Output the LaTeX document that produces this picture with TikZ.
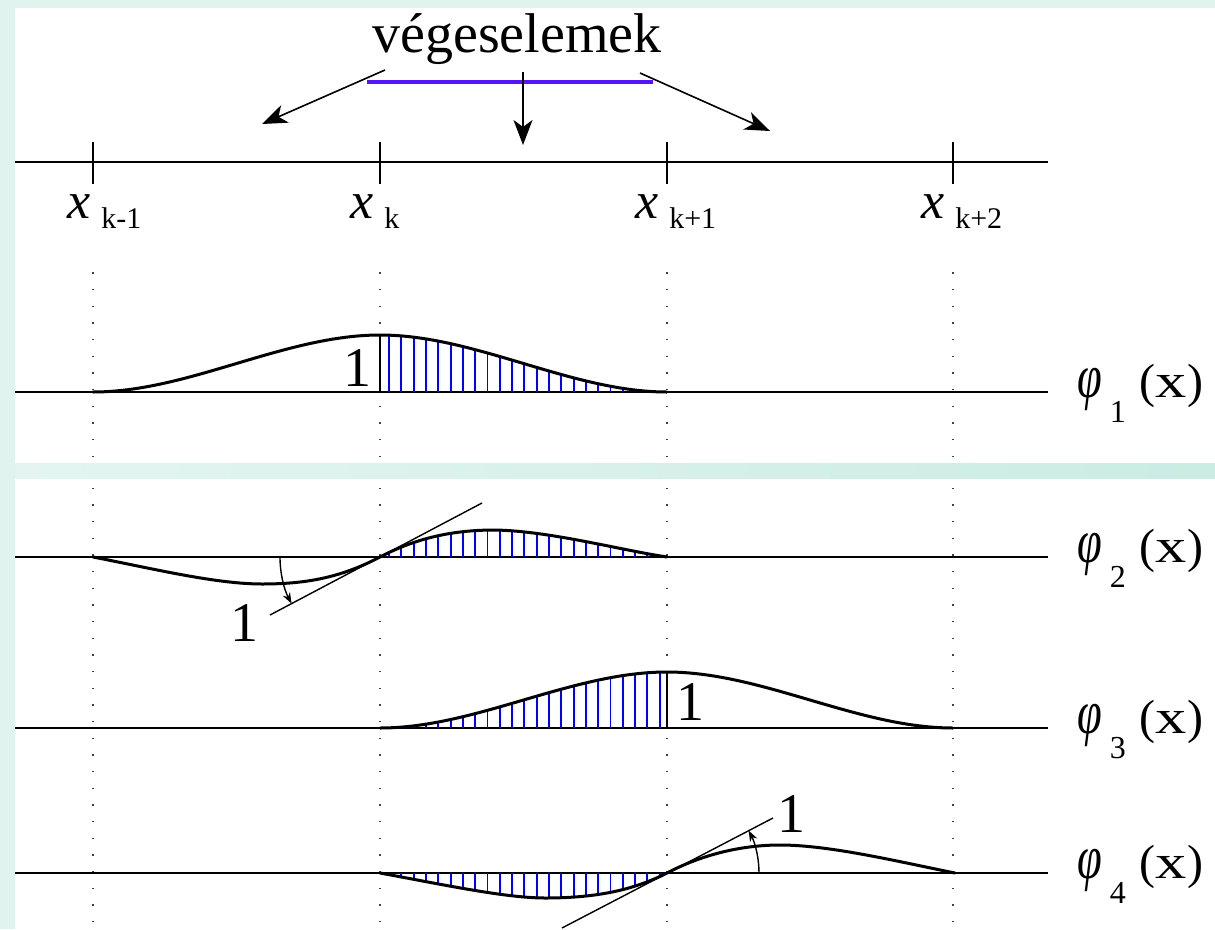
\documentclass[tikz,border=0pt]{standalone}
\usepackage{fontspec}
\setmainfont{Liberation Serif}
\usetikzlibrary{arrows.meta}
\definecolor{bgcyan}{RGB}{224,243,239}
\definecolor{stripL}{RGB}{228,245,241}
\definecolor{stripR}{RGB}{202,236,227}
\definecolor{barblue}{RGB}{85,20,245}
\definecolor{hatchblue}{RGB}{0,0,255}
\newcommand{\philabel}[1]{\scalebox{0.72}[1]{\fontsize{62}{62}\selectfont\itshape φ}\hspace{8pt}\raisebox{-25pt}{\fontsize{32}{32}\selectfont #1}\hspace{14pt}(\scalebox{1.3}[1]{x})}
\newcommand{\xlabel}[1]{\itshape x\upshape\hspace{11pt}\raisebox{-10pt}{\fontsize{30}{30}\selectfont #1}}
\begin{document}
\begin{tikzpicture}[x=1pt,y=-1pt,
  axisline/.style={line width=2.1pt},
  tick/.style={line width=2pt},
  curve/.style={line width=3pt, line join=round, line cap=round},
  hatch/.style={hatchblue, line width=1.9pt},
  tang/.style={line width=1.4pt},
  dotline/.style={line width=1.4pt, dash pattern=on 1.4pt off 15.27pt, black!75},
  bigarrow/.style={line width=1.6pt, -{Stealth[length=25pt,width=19pt,inset=7pt]}},
  arcarrow/.style={line width=1.4pt, -{Stealth[length=11pt,width=8pt]}},
  onelbl/.style={font=\fontsize{56}{60}\selectfont, inner sep=0pt, anchor=base},
  xlbl/.style={font=\fontsize{52}{56}\selectfont, inner sep=0pt, anchor=base west},
  philbl/.style={font=\fontsize{48}{52}\selectfont, inner sep=0pt, anchor=base west},
]
\useasboundingbox (0,0) rectangle (1215,929);
% background
\fill[bgcyan] (0,0) rectangle (1215,929);
\fill[white] (15,8) rectangle (1215,463);
\fill[white] (15,478) rectangle (1215,929);
\shade[left color=stripL, right color=stripR] (15,463) rectangle (1215,478);

% dotted guide lines
\foreach \gx in {93,380,667,953} {
  \draw[dotline] (\gx,272.2) -- (\gx,462);
  \draw[dotline] (\gx,487.5) -- (\gx,929);
}

% ---------- top axis ----------
\coordinate (axL) at (15,162);
\coordinate (axR) at (1048,162);
\draw[axisline] (axL) -- (axR);
\foreach \gx/\nm in {93/a,380/b,667/c,953/d} {
  \coordinate (t\nm1) at (\gx,142);
  \coordinate (t\nm2) at (\gx,184);
  \draw[tick] (t\nm1) -- (t\nm2);
}
\node[xlbl] (xkm1) at (67,218) {\xlabel{k-1}};
\node[xlbl] (xk)   at (350,218) {\xlabel{k}};
\node[xlbl] (xkp1) at (635,218) {\xlabel{k+1}};
\node[xlbl] (xkp2) at (921,218) {\xlabel{k+2}};

% title and element bar
\node[font=\fontsize{56}{60}\selectfont, inner sep=0pt, anchor=base] (title) at (517,52) {végeselemek};
\coordinate (barL) at (367,82);
\coordinate (barR) at (653,82);
\draw[barblue, line width=4.5pt] (barL) -- (barR);
\coordinate (a1s) at (385,70);  \coordinate (a1e) at (262,124);
\coordinate (a2s) at (523,72);  \coordinate (a2e) at (523,145);
\coordinate (a3s) at (640,73);  \coordinate (a3e) at (770,131);
\draw[bigarrow] (a1s) -- (a1e);
\draw[bigarrow] (a2s) -- (a2e);
\draw[bigarrow] (a3s) -- (a3e);

% ---------- row 1: phi_1 ----------
\coordinate (r1L) at (15,392);
\coordinate (r1R) at (1048,392);
\draw[axisline] (r1L) -- (r1R);
\foreach \k in {0,...,22} {
  \pgfmathsetmacro\xx{389.1+12.3*\k}
  \pgfmathsetmacro\tv{(\xx-380)/287}
  \draw[hatch] (\xx,392) -- (\xx,{392-57*(1-3*\tv*\tv+2*\tv*\tv*\tv)});
}
\coordinate (p1top) at (380,335);
\coordinate (p1bot) at (380,392);
\draw[line width=2pt] (p1bot) -- (p1top);
\draw[curve] plot[domain=0:1, samples=60, variable=\s] ({93+287*\s},{392-57*(3*\s*\s-2*\s*\s*\s)});
\draw[curve] plot[domain=0:1, samples=60, variable=\s] ({380+287*\s},{392-57*(1-3*\s*\s+2*\s*\s*\s)});
\node[onelbl] (one1) at (357.5,386) {1};
\node[philbl] (phi1) at (1077,397) {\philabel{1}};

% ---------- row 2: phi_2 ----------
\coordinate (r2L) at (15,557);
\coordinate (r2R) at (1048,557);
\draw[axisline] (r2L) -- (r2R);
\coordinate (k2) at (380,557);
\coordinate (k2n) at (667,557);
\begin{scope}
  \clip (k2) .. controls (420,536) and (458,530) .. (495,530)
        .. controls (550,531) and (620,550) .. (k2n) -- cycle;
  \foreach \k in {0,...,22} {
    \pgfmathsetmacro\xx{389.1+12.3*\k}
    \draw[hatch] (\xx,560) -- (\xx,520);
  }
\end{scope}
\draw[curve] (93,557) .. controls (150,568) and (215,584) .. (262,584)
  .. controls (305,584) and (340,578) .. (k2)
  .. controls (420,536) and (458,530) .. (495,530)
  .. controls (550,531) and (620,550) .. (k2n);
\coordinate (tg2a) at (270,615);
\coordinate (tg2b) at (482,503);
\draw[tang] (tg2a) -- (tg2b);
\coordinate (arc2s) at (280,557);
\draw[arcarrow] (arc2s) arc[start angle=180, end angle=152.2, radius=100];
\node[onelbl] (one2) at (244.5,641) {1};
\node[philbl] (phi2) at (1077,562) {\philabel{2}};

% ---------- row 3: phi_3 ----------
\coordinate (r3L) at (15,728);
\coordinate (r3R) at (1048,728);
\draw[axisline] (r3L) -- (r3R);
\foreach \k in {0,...,22} {
  \pgfmathsetmacro\xx{389.1+12.3*\k}
  \pgfmathsetmacro\tv{(\xx-380)/287}
  \draw[hatch] (\xx,728) -- (\xx,{728-56*(3*\tv*\tv-2*\tv*\tv*\tv)});
}
\coordinate (p3top) at (667,672);
\coordinate (p3bot) at (667,728);
\draw[line width=2pt] (p3bot) -- (p3top);
\draw[curve] plot[domain=0:1, samples=60, variable=\s] ({380+287*\s},{728-56*(3*\s*\s-2*\s*\s*\s)});
\draw[curve] plot[domain=0:1, samples=60, variable=\s] ({667+286*\s},{728-56*(1-3*\s*\s+2*\s*\s*\s)});
\node[onelbl] (one3) at (690.5,720) {1};
\node[philbl] (phi3) at (1077,733) {\philabel{3}};

% ---------- row 4: phi_4 ----------
\coordinate (r4L) at (15,873);
\coordinate (r4R) at (1048,873);
\draw[axisline] (r4L) -- (r4R);
\coordinate (k4) at (380,873);
\coordinate (k4n) at (667,873);
\begin{scope}
  \clip (k4) .. controls (440,884) and (505,898) .. (545,898)
        .. controls (590,898) and (630,892) .. (k4n) -- cycle;
  \foreach \k in {0,...,22} {
    \pgfmathsetmacro\xx{389.1+12.3*\k}
    \draw[hatch] (\xx,870) -- (\xx,905);
  }
\end{scope}
\draw[curve] (k4) .. controls (440,884) and (505,898) .. (545,898)
  .. controls (590,898) and (630,892) .. (k4n)
  .. controls (705,853) and (745,845) .. (780,845)
  .. controls (830,845) and (900,862) .. (955,873);
\coordinate (tg4a) at (562,928);
\coordinate (tg4b) at (773,818);
\draw[tang] (tg4a) -- (tg4b);
\coordinate (arc4s) at (759,873);
\draw[arcarrow] (arc4s) arc[start angle=0, end angle=-27.5, radius=92];
\node[onelbl] (one4) at (791,832) {1};
\node[philbl] (phi4) at (1077,878) {\philabel{4}};
\end{tikzpicture}
\end{document}
